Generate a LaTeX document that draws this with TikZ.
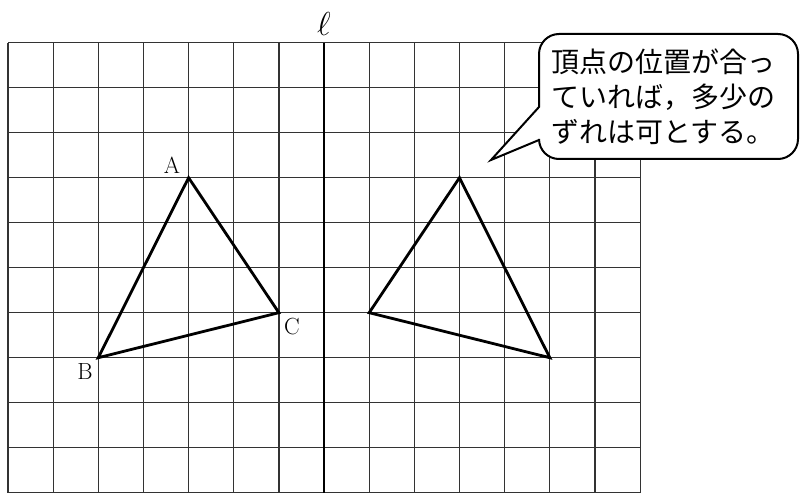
\documentclass[tikz,border=0pt]{standalone}
\usepackage{fontspec}
\newfontfamily\cjk{Noto Sans CJK JP}
\tikzset{
  gridline/.style={draw=black!80, line width=0.9pt},
  axisline/.style={draw=black, line width=1.6pt},
  triline/.style={draw=black, line width=2.1pt, line join=miter},
  vlabel/.style={font=\fontsize{17.5}{20}\selectfont, inner sep=0pt},
  callout/.style={draw=black, line width=1.5pt, fill=white},
}
\begin{document}
\begin{tikzpicture}[x=0.75pt,y=-0.75pt]
\useasboundingbox (0,0) rectangle (800,495);
\fill[white] (0,0) rectangle (800,495);
% grid
\foreach \i in {0,...,14} {
  \draw[gridline] ({8+\i*45.15},42.7) -- ({8+\i*45.15},492.7);
}
\foreach \j in {0,...,10} {
  \draw[gridline] (8,{42.7+\j*45}) -- (640.1,{42.7+\j*45});
}
% axis
\coordinate (ltop) at ({8+7*45.15},42.7);
\coordinate (lbot) at ({8+7*45.15},492.7);
\draw[axisline] (ltop) -- (lbot);
\node[font=\fontsize{23}{26}\selectfont, inner sep=0pt] (ell) at ({8+7*45.15},24) {$\ell$};
% triangle ABC
\coordinate (A) at ({8+4*45.15},{42.7+3*45});
\coordinate (B) at ({8+2*45.15},{42.7+7*45});
\coordinate (C) at ({8+6*45.15},{42.7+6*45});
\draw[triline] (A) -- (B) -- (C) -- cycle;
\node[vlabel] (lA) at (172,165) {A};
\node[vlabel] (lB) at (85,372) {B};
\node[vlabel] (lC) at (292,327) {C};
% mirrored triangle
\coordinate (A') at ({8+10*45.15},{42.7+3*45});
\coordinate (B') at ({8+12*45.15},{42.7+7*45});
\coordinate (C') at ({8+8*45.15},{42.7+6*45});
\draw[triline] (A') -- (B') -- (C') -- cycle;
% callout
\coordinate (tip) at (491,160);
\draw[callout, rounded corners=15pt] (539,107) -- (539,34) -- (798,34) -- (798,159) -- (539,159) [sharp corners] -- (539,140) -- (tip) -- cycle;
\node[font=\cjk\fontsize{21}{26.25}\selectfont, align=left, inner sep=0pt] (note) at (663,97)
  {頂点の位置が合っ\\ていれば，多少の\\ずれは可とする。};
\end{tikzpicture}
\end{document}
